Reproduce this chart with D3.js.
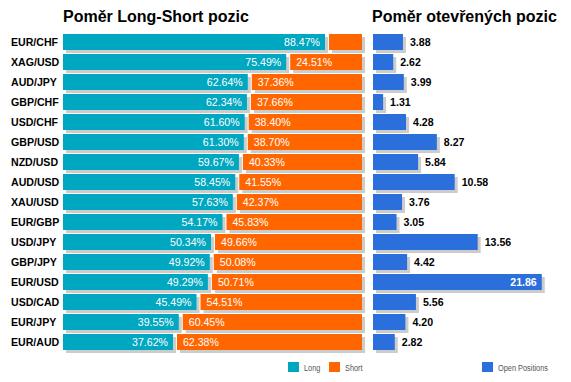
<!DOCTYPE html>
<html><head><meta charset="utf-8">
<script src="https://cdn.jsdelivr.net/npm/d3@7"></script>
<style>body{margin:0;background:#fff}svg{display:block}</style>
</head><body>
<script>
const categories = ["EUR/CHF","XAG/USD","AUD/JPY","GBP/CHF","USD/CHF","GBP/USD","NZD/USD","AUD/USD","XAU/USD","EUR/GBP","USD/JPY","GBP/JPY","EUR/USD","USD/CAD","EUR/JPY","EUR/AUD"];
const longPct = [88.47,75.49,62.64,62.34,61.60,61.30,59.67,58.45,57.63,54.17,50.34,49.92,49.29,45.49,39.55,37.62];
const shortPct = [11.53,24.51,37.36,37.66,38.40,38.70,40.33,41.55,42.37,45.83,49.66,50.08,50.71,54.51,60.45,62.38];
const openPos = [3.88,2.62,3.99,1.31,4.28,8.27,5.84,10.58,3.76,3.05,13.56,4.42,21.86,5.56,4.20,2.82];
const titles = ["Poměr Long-Short pozic","Poměr otevřených pozic"];
const legendLabels = ["Long","Short","Open Positions"];

const W=571,H=382;
const C={teal:"#00A7C0",orange:"#FF6600",blue:"#2A6FDB",shadow:"#CCCCCC"};
const svg=d3.select("body").append("svg").attr("width",W).attr("height",H);

const y=d3.scaleBand().domain(categories).range([34,354]);
const xL=d3.scaleLinear().domain([0,100]).range([63,362]);
const xR=d3.scaleLinear().domain([0,25]).range([373,566]);
const bh=16, sd=3;
const rowY=c=>y(c);

// titles
svg.append("text").attr("x",63).attr("y",22).text(titles[0])
  .attr("font-family","Liberation Sans, Arial, sans-serif").attr("font-weight","bold").attr("font-size",16).attr("fill","#000");
svg.append("text").attr("x",372).attr("y",22).text(titles[1])
  .attr("font-family","Liberation Sans, Arial, sans-serif").attr("font-weight","bold").attr("font-size",16).attr("fill","#000");

// category labels
svg.append("g").selectAll("text").data(categories).join("text")
  .attr("x",11).attr("y",c=>rowY(c)+bh/2+3.8).text(c=>c)
  .attr("font-family","Liberation Sans, Arial, sans-serif").attr("font-weight","bold").attr("font-size",10.6).attr("fill","#000");

const rows=categories.map((c,i)=>({c,l:longPct[i],s:shortPct[i],o:openPos[i]}));

// left chart
const gL=svg.append("g");
rows.forEach(d=>{
  const yy=rowY(d.c);
  const tEnd=xL(d.l)-2.5, oStart=xL(d.l)+1.5;
  gL.append("rect").attr("x",xL(0)+sd).attr("y",yy+sd).attr("width",tEnd-xL(0)).attr("height",bh).attr("fill",C.shadow);
  gL.append("rect").attr("x",oStart+sd).attr("y",yy+sd).attr("width",xL(100)-oStart).attr("height",bh).attr("fill",C.shadow);
});
rows.forEach(d=>{
  const yy=rowY(d.c);
  const tEnd=xL(d.l)-2.5, oStart=xL(d.l)+1.5;
  gL.append("rect").attr("x",xL(0)).attr("y",yy).attr("width",tEnd-xL(0)).attr("height",bh).attr("fill",C.teal);
  gL.append("rect").attr("x",oStart).attr("y",yy).attr("width",xL(100)-oStart).attr("height",bh).attr("fill",C.orange);
  gL.append("text").attr("x",tEnd-5).attr("y",yy+bh/2+3.6).attr("text-anchor","end")
    .text(d.l.toFixed(2)+"%").attr("font-family","Liberation Sans, Arial, sans-serif").attr("font-size",10.6).attr("fill","#fff");
  if(xL(100)-oStart>42){
    gL.append("text").attr("x",oStart+6).attr("y",yy+bh/2+3.6)
      .text(d.s.toFixed(2)+"%").attr("font-family","Liberation Sans, Arial, sans-serif").attr("font-size",10.6).attr("fill","#fff");
  }
});

// right chart
const gR=svg.append("g");
gR.selectAll("rect.sh").data(rows).join("rect").attr("class","sh")
  .attr("x",xR(0)+sd).attr("y",d=>rowY(d.c)+sd).attr("width",d=>xR(d.o)-xR(0)).attr("height",bh).attr("fill",C.shadow);
gR.selectAll("rect.bar").data(rows).join("rect").attr("class","bar")
  .attr("x",xR(0)).attr("y",d=>rowY(d.c)).attr("width",d=>xR(d.o)-xR(0)).attr("height",bh).attr("fill",C.blue);
gR.selectAll("text").data(rows).join("text")
  .each(function(d){
    const t=d3.select(this), inside=xR(d.o)+7+24>W-2;
    t.attr("x",inside?xR(d.o)-5:xR(d.o)+7).attr("text-anchor",inside?"end":"start")
     .attr("fill",inside?"#fff":"#000");
  })
  .attr("y",d=>rowY(d.c)+bh/2+3.7).text(d=>d.o.toFixed(2))
  .attr("font-family","Liberation Sans, Arial, sans-serif").attr("font-weight","bold").attr("font-size",10.6);

// legend
const leg=[{x:288,c:C.teal,t:legendLabels[0]},{x:329,c:C.orange,t:legendLabels[1]},{x:482,c:C.blue,t:legendLabels[2]}];
const gLeg=svg.append("g");
leg.forEach(l=>{
  gLeg.append("rect").attr("x",l.x).attr("y",362).attr("width",11).attr("height",10).attr("fill",l.c);
  gLeg.append("text").attr("transform",`translate(${l.x+16},370.5) scale(0.82,1)`).text(l.t)
    .attr("font-family","Liberation Sans, Arial, sans-serif").attr("font-size",9).attr("fill","#555");
});
</script>
</body></html>
